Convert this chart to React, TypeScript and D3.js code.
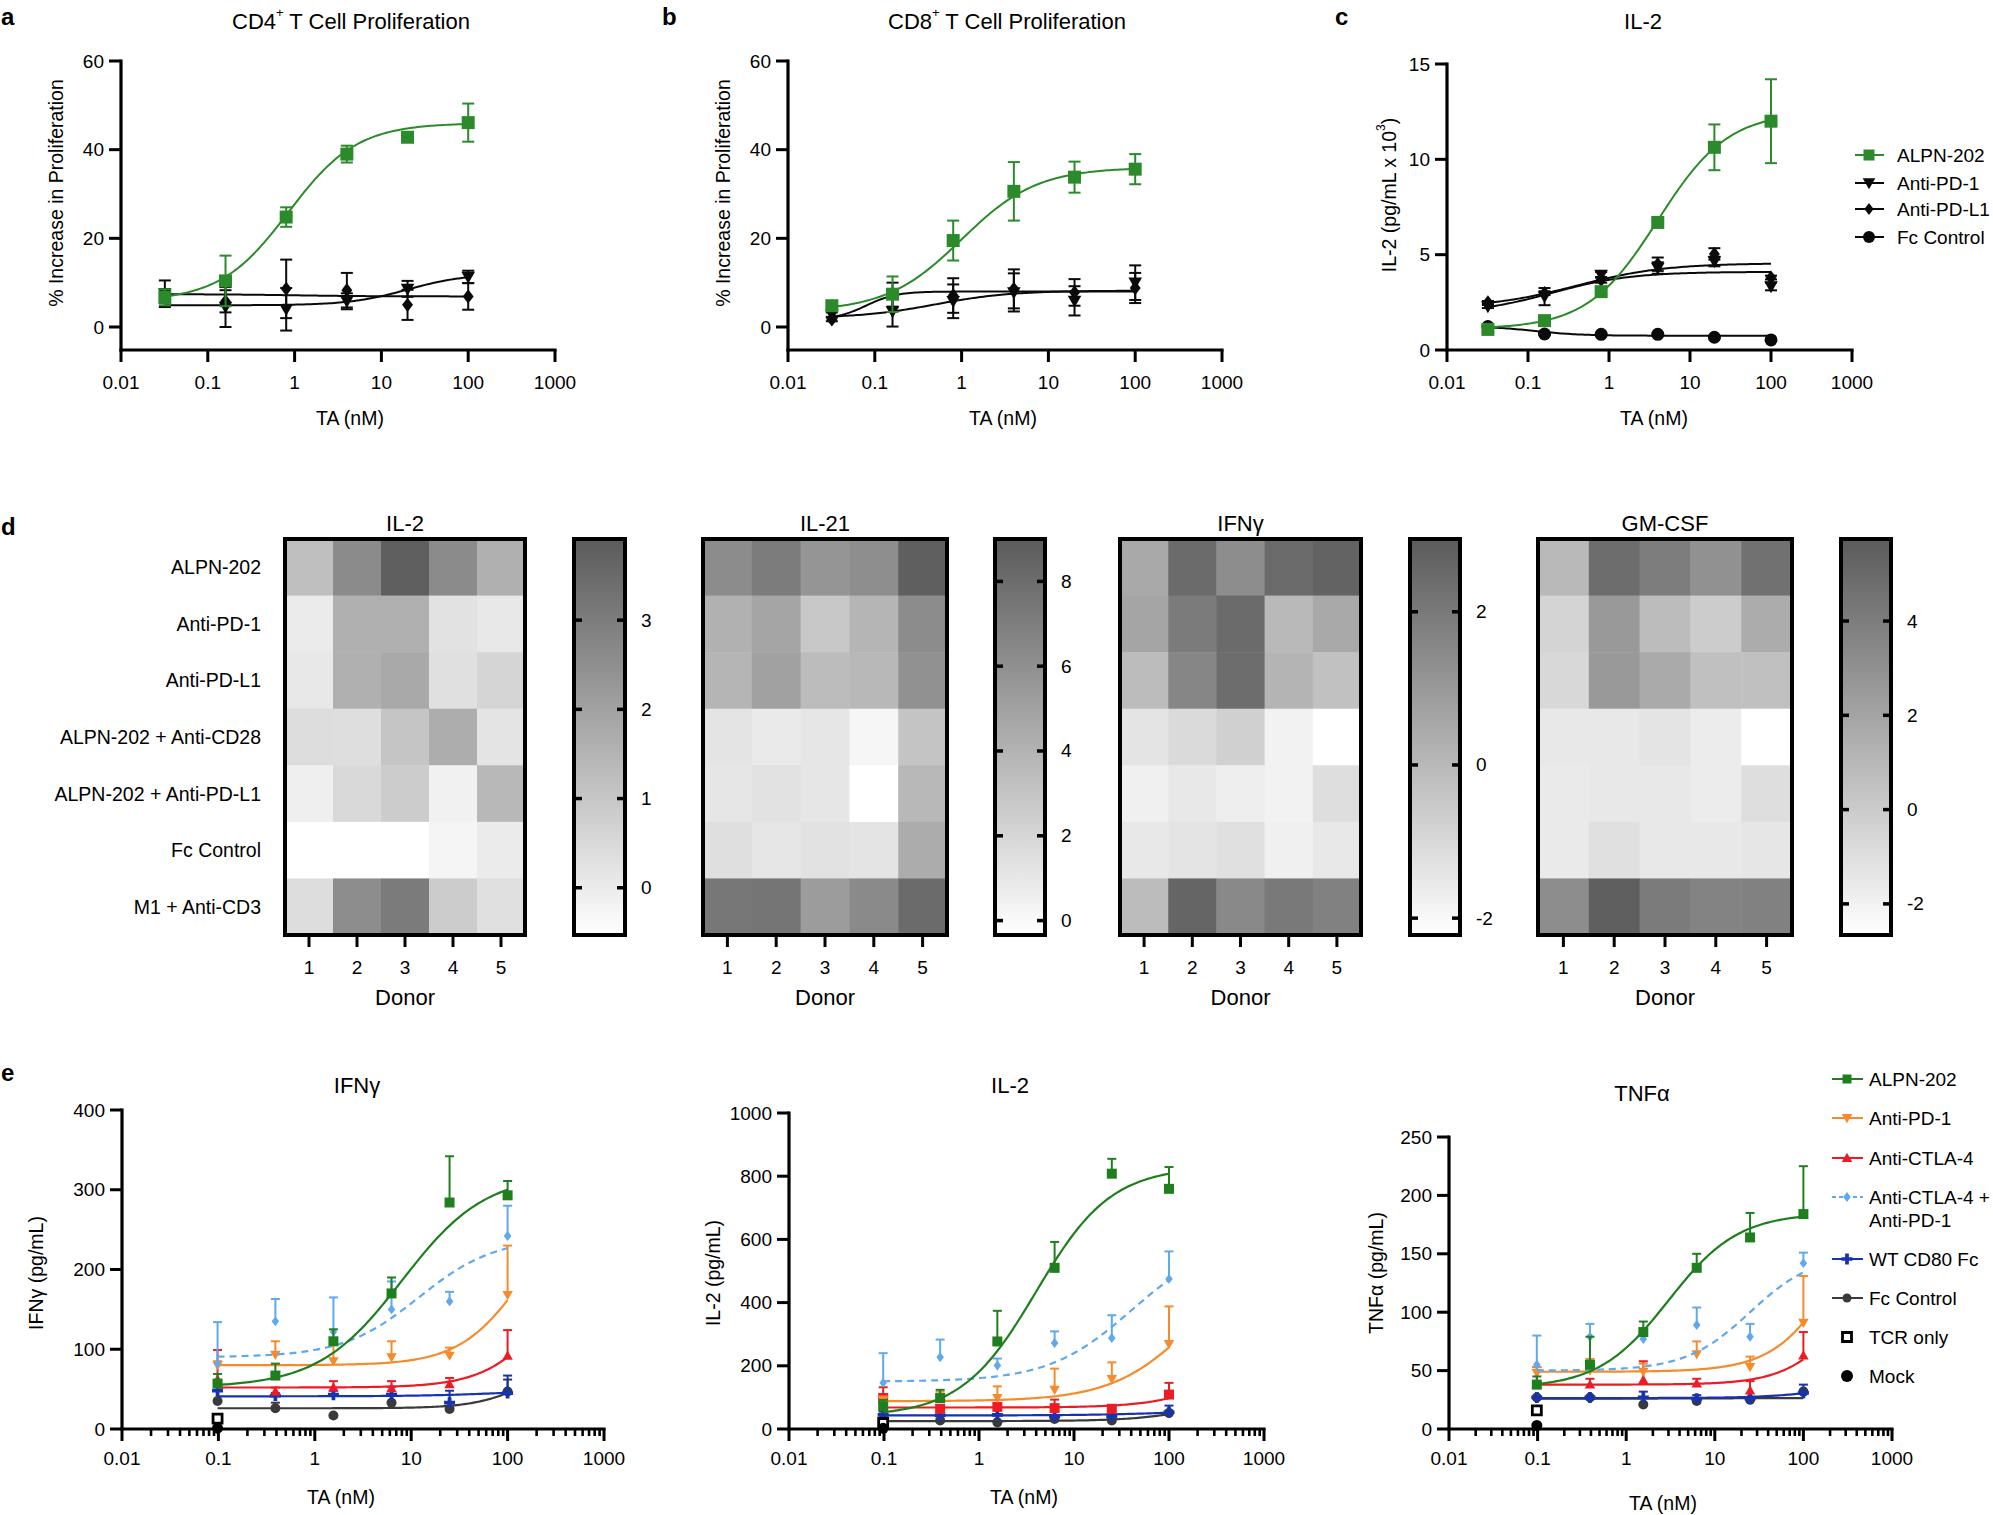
import React from "react";
import * as d3 from "d3";

const FONT = "'Liberation Sans', Arial, Helvetica, sans-serif";

// ---------------- Panels a–c : doses (nM) ----------------
const dosesABC = [0.032, 0.16, 0.8, 4, 20, 100];

// a: CD4+ proliferation (%)
const cd4Alpn = [6.7, 10.4, 24.8, 39, 42.8, 46.1];
const cd4AlpnErr = [1.8, 5.7, 2.2, 1.9, 0.6, 4.3];
const cd4AlpnFit = [5.8, 46, 0.85, 1.1]; // bottom, top, EC50, hill
const cd4Pd1 = [7.5, 4.5, 4, 5.8, 8.6, 11.3];
const cd4Pd1Err = [3, 4.5, 4.8, 1.8, 1.8, 1.4];
const cd4Pd1Fit = [4.9, 12, 20, 1.3];
const cd4Pdl1 = [7, 5.8, 8.6, 8.3, 5, 6.9];
const cd4Pdl1Err = [1.5, 2.5, 6.6, 3.9, 3.4, 3];
const cd4Pdl1Fit = [7.4, 6.9, 1, 1];

// b: CD8+ proliferation (%)
const cd8Alpn = [4.8, 7.4, 19.5, 30.6, 33.8, 35.6];
const cd8AlpnErr = [0.8, 4, 4.5, 6.6, 3.5, 3.4];
const cd8AlpnFit = [3.5, 36, 1.0, 1.0];
const cd8Pd1 = [2.8, 3.5, 5.8, 7.8, 5.9, 10];
const cd8Pd1Err = [0.5, 3.4, 3.8, 4.3, 3.3, 3.9];
const cd8Pd1Fit = [2.0, 8.2, 0.5, 1.0];
const cd8Pdl1 = [1.7, 7.3, 7.1, 8.6, 7.8, 8.8];
const cd8Pdl1Err = [0.4, 2.7, 3.9, 4.4, 3, 3.4];
const cd8Pdl1Fit = [1.7, 8, 0.08, 2.5];

// c: IL-2 (pg/mL x 10^3)
const il2Alpn = [1.08, 1.54, 3.06, 6.69, 10.63, 12.0];
const il2AlpnErr = [0.08, 0.1, 0.15, 0.2, 1.2, 2.2];
const il2AlpnFit = [1.1, 12.5, 4, 1.0];
const il2Pd1 = [2.28, 2.8, 3.94, 4.3, 4.64, 3.33];
const il2Pd1Err = [0.08, 0.45, 0.15, 0.3, 0.25, 0.2];
const il2Pd1Fit = [1.9, 4.1, 0.2, 0.9];
const il2Pdl1 = [2.49, 2.98, 3.68, 4.5, 5.04, 3.8];
const il2Pdl1Err = [0.08, 0.1, 0.15, 0.35, 0.3, 0.1];
const il2Pdl1Fit = [2.2, 4.55, 0.4, 0.8];
const il2Fc = [1.23, 0.84, 0.82, 0.82, 0.67, 0.53];
const il2FcErr = [0.05, 0.05, 0.05, 0.05, 0.05, 0.05];
const il2FcFit = [1.25, 0.75, 0.12, 1.5];

const legendCLabels = ["ALPN-202", "Anti-PD-1", "Anti-PD-L1", "Fc Control"];

// ---------------- Panel d : heatmaps ----------------
const heatRows = [
  "ALPN-202",
  "Anti-PD-1",
  "Anti-PD-L1",
  "ALPN-202 + Anti-CD28",
  "ALPN-202 + Anti-PD-L1",
  "Fc Control",
  "M1 + Anti-CD3",
];
const donors = [1, 2, 3, 4, 5];

const il2Heat = [
  [1.2, 2.6, 3.8, 2.6, 1.6],
  [0.0, 1.6, 1.6, 0.25, 0.1],
  [0.1, 1.6, 1.8, 0.3, 0.6],
  [0.4, 0.35, 1.05, 1.7, 0.2],
  [-0.1, 0.5, 0.85, -0.15, 1.4],
  [-0.53, -0.53, -0.53, -0.25, 0.0],
  [0.4, 2.55, 3.05, 0.85, 0.3],
];
const il2HeatRange = [-0.53, 3.91];
const il2HeatTicks = [0, 1, 2, 3];

const il21Heat = [
  [6.2, 7.1, 5.7, 6.1, 8.8],
  [4.1, 4.8, 2.8, 3.9, 6.2],
  [3.9, 5.0, 3.5, 3.7, 5.9],
  [1.2, 0.85, 1.1, 0.17, 3.0],
  [1.1, 1.3, 1.1, -0.34, 3.7],
  [1.5, 1.1, 1.3, 1.2, 4.4],
  [7.4, 7.5, 5.3, 6.3, 8.1],
];
const il21HeatRange = [-0.34, 9.0];
const il21HeatTicks = [0, 2, 4, 6, 8];

const ifngHeat = [
  [0.5, 2.45, 1.38, 2.45, 2.7],
  [0.63, 1.95, 2.45, 0.0, 0.5],
  [-0.12, 1.6, 2.39, 0.13, -0.25],
  [-1.37, -1.06, -0.75, -1.81, -2.22],
  [-1.75, -1.5, -1.69, -1.81, -1.18],
  [-1.5, -1.37, -1.25, -1.75, -1.5],
  [-0.12, 2.63, 1.51, 2.01, 1.76],
];
const ifngHeatRange = [-2.22, 2.95];
const ifngHeatTicks = [-2, 0, 2];

const gmcsfHeat = [
  [0.95, 4.82, 4.01, 2.99, 4.62],
  [-0.47, 2.58, 0.75, -0.06, 1.57],
  [-0.68, 2.58, 1.67, 0.55, 0.55],
  [-1.49, -1.49, -1.28, -1.69, -2.66],
  [-1.59, -1.49, -1.49, -1.69, -0.98],
  [-1.59, -1.08, -1.49, -1.49, -1.38],
  [3.19, 5.54, 4.11, 3.71, 3.81],
];
const gmcsfHeatRange = [-2.66, 5.74];
const gmcsfHeatTicks = [-2, 0, 2, 4];

// ---------------- Panel e : doses (nM) ----------------
const dosesE = [0.098, 0.39, 1.56, 6.25, 25, 100];
const controlDose = [0.098];

// IFNγ (pg/mL)
const eIfnAlpn = [57, 67, 110, 170, 284, 293];
const eIfnAlpnErr = [12, 15, 15, 20, 58, 18];
const eIfnAlpnFit = [52, 320, 8, 1.0];
const eIfnPd1 = [80, 93, 85, 90, 92, 168];
const eIfnPd1Err = [5, 17, 25, 20, 10, 62];
const eIfnPd1Fit = [80, 300, 150, 1.3];
const eIfnCtla4 = [62, 47, 52, 51, 56, 92];
const eIfnCtla4Err = [37, 5, 8, 9, 8, 32];
const eIfnCtla4Fit = [52, 250, 300, 1.3];
const eIfnCombo = [82, 135, 122, 150, 160, 242];
const eIfnComboErr = [52, 28, 43, 35, 12, 38];
const eIfnComboFit = [90, 240, 12, 1.1];
const eIfnCd80 = [48, 42, 43, 43, 33, 45];
const eIfnCd80Err = [5, 3, 5, 10, 15, 22];
const eIfnCd80Fit = [41, 50, 100, 1];
const eIfnFc = [35, 26, 17, 33, 25, 47];
const eIfnFcErr = [0, 7, 0, 0, 0, 15];
const eIfnFcFit = [26, 100, 200, 1.5];
const eIfnTcr = [13];
const eIfnMock = [1];

// IL-2 (pg/mL)
const eIl2Alpn = [72, 98, 277, 510, 808, 760];
const eIl2AlpnErr = [20, 26, 97, 82, 47, 69];
const eIl2AlpnFit = [40, 830, 4, 1.1];
const eIl2Pd1 = [90, 98, 98, 124, 158, 269];
const eIl2Pd1Err = [13, 20, 37, 67, 53, 119];
const eIl2Pd1Fit = [88, 600, 200, 1.0];
const eIl2Ctla4 = [98, 64, 70, 66, 64, 109];
const eIl2Ctla4Err = [34, 0, 0, 27, 0, 37];
const eIl2Ctla4Fit = [68, 300, 500, 1.2];
const eIl2Combo = [146, 227, 201, 272, 288, 475];
const eIl2ComboErr = [94, 56, 22, 37, 72, 87];
const eIl2ComboFit = [150, 600, 40, 1.0];
const eIl2Cd80 = [45, 43, 45, 40, 40, 53];
const eIl2Cd80Err = [10, 0, 0, 0, 0, 21];
const eIl2Cd80Fit = [43, 60, 100, 1];
const eIl2Fc = [30, 27, 21, 32, 27, 51];
const eIl2FcErr = [0, 0, 0, 0, 0, 0];
const eIl2FcFit = [25, 130, 300, 1.2];
const eIl2Tcr = [19];
const eIl2Mock = [2];

// TNFα (pg/mL)
const eTnfAlpn = [38, 55, 83, 138, 164, 184];
const eTnfAlpnErr = [7, 24, 9, 12, 21, 41];
const eTnfAlpnFit = [35, 185, 3, 1.1];
const eTnfPd1 = [48, 50, 49, 64, 53, 91];
const eTnfPd1Err = [5, 10, 7, 11, 9, 40];
const eTnfPd1Fit = [49, 250, 300, 1.2];
const eTnfCtla4 = [38, 38, 42, 39, 33, 63];
const eTnfCtla4Err = [15, 5, 16, 4, 8, 20];
const eTnfCtla4Fit = [38, 150, 300, 1.3];
const eTnfCombo = [55, 79, 77, 89, 79, 142];
const eTnfComboErr = [25, 11, 0, 15, 11, 9];
const eTnfComboFit = [50, 150, 25, 1.2];
const eTnfCd80 = [27, 27, 27, 26, 26, 31];
const eTnfCd80Err = [0, 0, 5, 3, 0, 7];
const eTnfCd80Fit = [26.5, 40, 200, 1.2];
const eTnfFc = [27, 27, 21, 24, 25, 32];
const eTnfFcErr = [0, 0, 0, 0, 0, 0];
const eTnfFcFit = [26, 26.5, 10, 1];
const eTnfTcr = [16];
const eTnfMock = [3];

const legendELabels = [
  ["ALPN-202"],
  ["Anti-PD-1"],
  ["Anti-CTLA-4"],
  ["Anti-CTLA-4 +", "Anti-PD-1"],
  ["WT CD80 Fc"],
  ["Fc Control"],
  ["TCR only"],
  ["Mock"],
];

// ---------------- styles ----------------
const GREEN = "#2b8b2b";
const GREEN_E = "#1f7f1f";
const ORANGE = "#f68b2c";
const RED = "#ec1c24";
const LBLUE = "#5fa9ec";
const DBLUE = "#1733b0";
const GRAY = "#3a3a3a";
const BLACK = "#0a0a0a";

type Series = {
  x: number[];
  y: number[];
  err?: number[];
  fit?: number[];
  color: string;
  marker: string;
  size: number;
  dash?: boolean;
};

function markerPath(type: string, s: number): string {
  const h = s / 2;
  switch (type) {
    case "square":
    case "openSquare":
      return `M${-h},${-h}H${h}V${h}H${-h}Z`;
    case "triDown":
      return `M${-h * 1.05},${-s * 0.4}H${h * 1.05}L0,${s * 0.52}Z`;
    case "triUp":
      return `M${-h * 1.05},${s * 0.4}H${h * 1.05}L0,${-s * 0.52}Z`;
    case "diamond":
      return `M0,${-h * 1.1}L${s * 0.42},0L0,${h * 1.1}L${-s * 0.42},0Z`;
    case "cross": {
      const t = s * 0.17;
      return `M${-t},${-h}H${t}V${-t}H${h}V${t}H${t}V${h}H${-t}V${t}H${-h}V${-t}H${-t}Z`;
    }
    default:
      return d3.symbol(d3.symbolCircle, Math.PI * h * h)() as string;
  }
}

function Marker({ type, size, color, cx, cy }: any) {
  if (type === "openSquare") {
    return (
      <path
        transform={`translate(${cx},${cy})`}
        d={markerPath(type, size)}
        fill="#fff"
        stroke="#000"
        strokeWidth={2.8}
      />
    );
  }
  return <path transform={`translate(${cx},${cy})`} d={markerPath(type, size)} fill={color} />;
}

function fitPoints(f: number[], x0: number, x1: number): [number, number][] {
  const n = 120;
  return d3.range(0, n + 1).map((i) => {
    const lx = Math.log10(x0) + ((Math.log10(x1) - Math.log10(x0)) * i) / n;
    const xv = Math.pow(10, lx);
    return [xv, f[0] + (f[1] - f[0]) / (1 + Math.pow(f[2] / xv, f[3]))];
  });
}

const majors = [0.01, 0.1, 1, 10, 100, 1000];
const majorLabels = ["0.01", "0.1", "1", "10", "100", "1000"];

function DoseChart(p: any) {
  const {
    left,
    right,
    yTop,
    yBottom,
    axisY,
    yDomain,
    yTicks,
    minor,
    twoSided,
    capW,
    series,
    lineW,
    errW,
  } = p;
  const x = d3.scaleLog().domain([0.01, 1000]).range([left, right]);
  const y = d3.scaleLinear().domain(yDomain).range([yBottom, yTop]);
  const minors = minor
    ? majors.slice(0, -1).flatMap((m) => d3.range(2, 10).map((k) => m * k))
    : [];
  const line = d3
    .line<[number, number]>()
    .x((d) => x(d[0]))
    .y((d) => y(d[1]));
  return (
    <g>
      {series.map((s: Series, si: number) => (
        <g key={si}>
          {s.fit && (
            <path
              d={line(fitPoints(s.fit, s.x[0], s.x[s.x.length - 1])) || ""}
              fill="none"
              stroke={s.color}
              strokeWidth={lineW}
              strokeDasharray={s.dash ? "7,5" : undefined}
            />
          )}
          {s.err &&
            s.x.map((xv, i) => {
              const e = s.err![i];
              if (!e) return null;
              const cx = x(xv);
              const yHi = y(s.y[i] + e);
              const yLo = twoSided ? y(s.y[i] - e) : y(s.y[i]);
              return (
                <g key={i} stroke={s.color} strokeWidth={errW}>
                  <line x1={cx} x2={cx} y1={yHi} y2={yLo} />
                  <line x1={cx - capW / 2} x2={cx + capW / 2} y1={yHi} y2={yHi} />
                  {twoSided && (
                    <line x1={cx - capW / 2} x2={cx + capW / 2} y1={yLo} y2={yLo} />
                  )}
                </g>
              );
            })}
          {s.x.map((xv, i) => (
            <Marker
              key={"m" + i}
              type={s.marker}
              size={s.size}
              color={s.color}
              cx={x(xv)}
              cy={y(s.y[i])}
            />
          ))}
        </g>
      ))}
      {/* axes */}
      <line
        x1={left}
        x2={left}
        y1={y(yDomain[1])}
        y2={axisY}
        stroke="#000"
        strokeWidth={3.2}
        strokeLinecap="square"
      />
      <line
        x1={left}
        x2={right}
        y1={axisY}
        y2={axisY}
        stroke="#000"
        strokeWidth={3.2}
        strokeLinecap="square"
      />
      {yTicks.map((t: number) => (
        <g key={"y" + t}>
          <line x1={left - 12} x2={left} y1={y(t)} y2={y(t)} stroke="#000" strokeWidth={3} />
          <text
            x={left - 17}
            y={y(t)}
            textAnchor="end"
            dominantBaseline="central"
            fontSize={19}
          >
            {t}
          </text>
        </g>
      ))}
      {minors.map((t: number, i: number) => (
        <line
          key={"mn" + i}
          x1={x(t)}
          x2={x(t)}
          y1={axisY}
          y2={axisY + 7}
          stroke="#000"
          strokeWidth={2.6}
        />
      ))}
      {majors.map((t, i) => (
        <g key={"x" + i}>
          <line x1={x(t)} x2={x(t)} y1={axisY} y2={axisY + 12} stroke="#000" strokeWidth={3} />
          <text
            x={x(t)}
            y={p.tickLabelY}
            textAnchor="middle"
            dominantBaseline="central"
            fontSize={19}
          >
            {majorLabels[i]}
          </text>
        </g>
      ))}
      <text
        x={p.titleX}
        y={p.titleY}
        textAnchor="middle"
        dominantBaseline="central"
        fontSize={22}
      >
        {p.title}
      </text>
      <text
        x={p.xLabelX}
        y={p.xLabelY}
        textAnchor="middle"
        dominantBaseline="central"
        fontSize={19.5}
      >
        TA (nM)
      </text>
      <text
        transform={`translate(${p.yLabelX},${p.yLabelY}) rotate(-90)`}
        textAnchor="middle"
        dominantBaseline="central"
        fontSize={19.5}
      >
        {p.yLabel}
      </text>
    </g>
  );
}

function Heatmap(p: any) {
  const { x0, x1, cb0, cb1, data, range, ticks, title, gid, showRows } = p;
  const top = 539;
  const bottom = 935;
  const xs = d3.scaleBand<number>().domain(donors).range([x0, x1]);
  const ys = d3.scaleBand<string>().domain(heatRows).range([top, bottom]);
  const dark = "#5b5b5b";
  const color = d3
    .scaleLinear<string>()
    .domain(range)
    .range(["#ffffff", dark])
    .interpolate(d3.interpolateRgb)
    .clamp(true);
  const cbY = d3.scaleLinear().domain(range).range([bottom, top]);
  return (
    <g>
      <defs>
        <linearGradient id={gid} x1="0" y1="1" x2="0" y2="0">
          <stop offset="0" stopColor="#ffffff" />
          <stop offset="1" stopColor={dark} />
        </linearGradient>
      </defs>
      {data.map((row: number[], ri: number) =>
        row.map((v: number, ci: number) => (
          <rect
            key={ri + "-" + ci}
            x={xs(donors[ci])}
            y={ys(heatRows[ri])}
            width={xs.bandwidth() + 0.5}
            height={ys.bandwidth() + 0.5}
            fill={color(v)}
          />
        ))
      )}
      <rect
        x={x0}
        y={top}
        width={x1 - x0}
        height={bottom - top}
        fill="none"
        stroke="#000"
        strokeWidth={4}
      />
      {donors.map((d) => (
        <g key={"d" + d}>
          <line
            x1={xs(d)! + xs.bandwidth() / 2}
            x2={xs(d)! + xs.bandwidth() / 2}
            y1={bottom + 2}
            y2={bottom + 12}
            stroke="#000"
            strokeWidth={3}
          />
          <text
            x={xs(d)! + xs.bandwidth() / 2}
            y={967}
            textAnchor="middle"
            dominantBaseline="central"
            fontSize={19}
          >
            {d}
          </text>
        </g>
      ))}
      <text
        x={(x0 + x1) / 2}
        y={997}
        textAnchor="middle"
        dominantBaseline="central"
        fontSize={22}
      >
        Donor
      </text>
      <text
        x={(x0 + x1) / 2}
        y={523}
        textAnchor="middle"
        dominantBaseline="central"
        fontSize={22}
      >
        {title}
      </text>
      {showRows &&
        heatRows.map((r) => (
          <text
            key={r}
            x={261}
            y={ys(r)! + ys.bandwidth() / 2}
            textAnchor="end"
            dominantBaseline="central"
            fontSize={19.5}
          >
            {r}
          </text>
        ))}
      {/* colour bar */}
      <rect
        x={cb0}
        y={top}
        width={cb1 - cb0}
        height={bottom - top}
        fill={`url(#${gid})`}
        stroke="#000"
        strokeWidth={4}
      />
      {ticks.map((t: number) => (
        <g key={"t" + t}>
          <line x1={cb0 - 1} x2={cb0 + 8} y1={cbY(t)} y2={cbY(t)} stroke="#000" strokeWidth={3.5} />
          <line x1={cb1 - 8} x2={cb1 + 1} y1={cbY(t)} y2={cbY(t)} stroke="#000" strokeWidth={3.5} />
          <text
            x={cb1 + 16}
            y={cbY(t)}
            textAnchor="start"
            dominantBaseline="central"
            fontSize={19}
          >
            {t < 0 ? "-" + Math.abs(t) : t}
          </text>
        </g>
      ))}
    </g>
  );
}

function Letter({ x, y, t }: any) {
  return (
    <text x={x} y={y} fontSize={24} fontWeight="bold">
      {t}
    </text>
  );
}

function LegendC() {
  const rows = [155, 183, 209, 237];
  const items = [
    { color: GREEN, marker: "square", size: 11 },
    { color: BLACK, marker: "triDown", size: 12 },
    { color: BLACK, marker: "diamond", size: 11 },
    { color: BLACK, marker: "circle", size: 12 },
  ];
  return (
    <g>
      {items.map((it, i) => (
        <g key={i}>
          <line x1={1855} x2={1884} y1={rows[i]} y2={rows[i]} stroke={it.color} strokeWidth={2} />
          <Marker type={it.marker} size={it.size} color={it.color} cx={1869} cy={rows[i]} />
          <text x={1897} y={rows[i]} dominantBaseline="central" fontSize={19}>
            {legendCLabels[i]}
          </text>
        </g>
      ))}
    </g>
  );
}

function LegendE() {
  const rows = [1079, 1118, 1158, 1197, 1259, 1298, 1337, 1376];
  const items = [
    { color: GREEN_E, marker: "square", size: 9, line: true },
    { color: ORANGE, marker: "triDown", size: 10, line: true },
    { color: RED, marker: "triUp", size: 10, line: true },
    { color: LBLUE, marker: "diamond", size: 9, line: true, dash: true },
    { color: DBLUE, marker: "cross", size: 11, line: true },
    { color: GRAY, marker: "circle", size: 9, line: true },
    { color: "#000", marker: "openSquare", size: 9, line: false },
    { color: "#000", marker: "circle", size: 12, line: false },
  ];
  return (
    <g>
      {items.map((it, i) => (
        <g key={i}>
          {it.line && (
            <line
              x1={1832}
              x2={1863}
              y1={rows[i]}
              y2={rows[i]}
              stroke={it.color}
              strokeWidth={2}
              strokeDasharray={it.dash ? "4,3" : undefined}
            />
          )}
          <Marker type={it.marker} size={it.size} color={it.color} cx={1847} cy={rows[i]} />
          {legendELabels[i].map((l, li) => (
            <text key={li} x={1869} y={rows[i] + li * 23} dominantBaseline="central" fontSize={19}>
              {l}
            </text>
          ))}
        </g>
      ))}
    </g>
  );
}

function eSeries(d: any): Series[] {
  return [
    { x: dosesE, y: d.fc, err: d.fcErr, fit: d.fcFit, color: GRAY, marker: "circle", size: 10 },
    { x: dosesE, y: d.cd80, err: d.cd80Err, fit: d.cd80Fit, color: DBLUE, marker: "cross", size: 11 },
    { x: dosesE, y: d.ctla4, err: d.ctla4Err, fit: d.ctla4Fit, color: RED, marker: d.ctlaMarker, size: 10 },
    { x: dosesE, y: d.pd1, err: d.pd1Err, fit: d.pd1Fit, color: ORANGE, marker: "triDown", size: 10 },
    { x: dosesE, y: d.combo, err: d.comboErr, fit: d.comboFit, color: LBLUE, marker: "diamond", size: 9, dash: true },
    { x: dosesE, y: d.alpn, err: d.alpnErr, fit: d.alpnFit, color: GREEN_E, marker: "square", size: 10 },
    { x: controlDose, y: d.tcr, color: "#000", marker: "openSquare", size: 9 },
    { x: controlDose, y: d.mock, color: "#000", marker: "circle", size: 11 },
  ];
}

export default function App() {
  const W = 1993;
  const H = 1515;
  const common = { yTop: 61, yBottom: 327, axisY: 350, twoSided: true, capW: 12, lineW: 2, errW: 2, tickLabelY: 382 };
  const seriesA: Series[] = [
    { x: dosesABC, y: cd4Pdl1, err: cd4Pdl1Err, fit: cd4Pdl1Fit, color: BLACK, marker: "diamond", size: 13 },
    { x: dosesABC, y: cd4Pd1, err: cd4Pd1Err, fit: cd4Pd1Fit, color: BLACK, marker: "triDown", size: 13 },
    { x: dosesABC, y: cd4Alpn, err: cd4AlpnErr, fit: cd4AlpnFit, color: GREEN, marker: "square", size: 13 },
  ];
  const seriesB: Series[] = [
    { x: dosesABC, y: cd8Pdl1, err: cd8Pdl1Err, fit: cd8Pdl1Fit, color: BLACK, marker: "diamond", size: 13 },
    { x: dosesABC, y: cd8Pd1, err: cd8Pd1Err, fit: cd8Pd1Fit, color: BLACK, marker: "triDown", size: 13 },
    { x: dosesABC, y: cd8Alpn, err: cd8AlpnErr, fit: cd8AlpnFit, color: GREEN, marker: "square", size: 13 },
  ];
  const seriesC: Series[] = [
    { x: dosesABC, y: il2Fc, err: il2FcErr, fit: il2FcFit, color: BLACK, marker: "circle", size: 13 },
    { x: dosesABC, y: il2Pdl1, err: il2Pdl1Err, fit: il2Pdl1Fit, color: BLACK, marker: "diamond", size: 13 },
    { x: dosesABC, y: il2Pd1, err: il2Pd1Err, fit: il2Pd1Fit, color: BLACK, marker: "triDown", size: 13 },
    { x: dosesABC, y: il2Alpn, err: il2AlpnErr, fit: il2AlpnFit, color: GREEN, marker: "square", size: 13 },
  ];
  const eCommon = { axisY: 1429, yBottom: 1429, twoSided: false, capW: 9, lineW: 2.2, errW: 2, minor: true, tickLabelY: 1458 };
  const sIfn = eSeries({
    fc: eIfnFc, fcErr: eIfnFcErr, fcFit: eIfnFcFit,
    cd80: eIfnCd80, cd80Err: eIfnCd80Err, cd80Fit: eIfnCd80Fit,
    ctla4: eIfnCtla4, ctla4Err: eIfnCtla4Err, ctla4Fit: eIfnCtla4Fit, ctlaMarker: "triUp",
    pd1: eIfnPd1, pd1Err: eIfnPd1Err, pd1Fit: eIfnPd1Fit,
    combo: eIfnCombo, comboErr: eIfnComboErr, comboFit: eIfnComboFit,
    alpn: eIfnAlpn, alpnErr: eIfnAlpnErr, alpnFit: eIfnAlpnFit,
    tcr: eIfnTcr, mock: eIfnMock,
  });
  const sIl2 = eSeries({
    fc: eIl2Fc, fcErr: eIl2FcErr, fcFit: eIl2FcFit,
    cd80: eIl2Cd80, cd80Err: eIl2Cd80Err, cd80Fit: eIl2Cd80Fit,
    ctla4: eIl2Ctla4, ctla4Err: eIl2Ctla4Err, ctla4Fit: eIl2Ctla4Fit, ctlaMarker: "square",
    pd1: eIl2Pd1, pd1Err: eIl2Pd1Err, pd1Fit: eIl2Pd1Fit,
    combo: eIl2Combo, comboErr: eIl2ComboErr, comboFit: eIl2ComboFit,
    alpn: eIl2Alpn, alpnErr: eIl2AlpnErr, alpnFit: eIl2AlpnFit,
    tcr: eIl2Tcr, mock: eIl2Mock,
  });
  const sTnf = eSeries({
    fc: eTnfFc, fcErr: eTnfFcErr, fcFit: eTnfFcFit,
    cd80: eTnfCd80, cd80Err: eTnfCd80Err, cd80Fit: eTnfCd80Fit,
    ctla4: eTnfCtla4, ctla4Err: eTnfCtla4Err, ctla4Fit: eTnfCtla4Fit, ctlaMarker: "triUp",
    pd1: eTnfPd1, pd1Err: eTnfPd1Err, pd1Fit: eTnfPd1Fit,
    combo: eTnfCombo, comboErr: eTnfComboErr, comboFit: eTnfComboFit,
    alpn: eTnfAlpn, alpnErr: eTnfAlpnErr, alpnFit: eTnfAlpnFit,
    tcr: eTnfTcr, mock: eTnfMock,
  });

  return (
    <svg
      width={W}
      height={H}
      viewBox={`0 0 ${W} ${H}`}
      style={{ position: "absolute", left: 0, top: 0, display: "block" }}
      fontFamily={FONT}
    >
      <rect width={W} height={H} fill="#ffffff" />

      <Letter x={1} y={25} t="a" />
      <Letter x={662} y={25} t="b" />
      <Letter x={1335} y={25} t="c" />
      <Letter x={1} y={535} t="d" />
      <Letter x={1} y={1081} t="e" />

      {/* a */}
      <DoseChart
        {...common}
        left={121}
        right={555}
        yDomain={[0, 60]}
        yTicks={[0, 20, 40, 60]}
        series={seriesA}
        title={
          <>
            CD4<tspan fontSize={13} dy={-9}>+</tspan>
            <tspan dy={9}> T Cell Proliferation</tspan>
          </>
        }
        titleX={351}
        titleY={21}
        xLabelX={350}
        xLabelY={418}
        yLabel="% Increase in Proliferation"
        yLabelX={56}
        yLabelY={193}
      />
      {/* b */}
      <DoseChart
        {...common}
        left={788}
        right={1222}
        yDomain={[0, 60]}
        yTicks={[0, 20, 40, 60]}
        series={seriesB}
        title={
          <>
            CD8<tspan fontSize={13} dy={-9}>+</tspan>
            <tspan dy={9}> T Cell Proliferation</tspan>
          </>
        }
        titleX={1007}
        titleY={21}
        xLabelX={1003}
        xLabelY={418}
        yLabel="% Increase in Proliferation"
        yLabelX={723}
        yLabelY={193}
      />
      {/* c */}
      <DoseChart
        {...common}
        yTop={64}
        yBottom={350}
        left={1447}
        right={1852}
        yDomain={[0, 15]}
        yTicks={[0, 5, 10, 15]}
        series={seriesC}
        title="IL-2"
        titleX={1643}
        titleY={21}
        xLabelX={1654}
        xLabelY={418}
        yLabel={
          <>
            IL-2 (pg/mL x 10<tspan fontSize={12} dy={-8}>3</tspan>
            <tspan dy={8}>)</tspan>
          </>
        }
        yLabelX={1389}
        yLabelY={195}
      />
      <LegendC />

      {/* d */}
      <Heatmap x0={285} x1={525} cb0={574} cb1={625} data={il2Heat} range={il2HeatRange} ticks={il2HeatTicks} title="IL-2" gid="g1" showRows />
      <Heatmap x0={703} x1={947} cb0={995} cb1={1045} data={il21Heat} range={il21HeatRange} ticks={il21HeatTicks} title="IL-21" gid="g2" />
      <Heatmap x0={1120} x1={1361} cb0={1410} cb1={1460} data={ifngHeat} range={ifngHeatRange} ticks={ifngHeatTicks} title="IFNγ" gid="g3" />
      <Heatmap x0={1538} x1={1792} cb0={1841} cb1={1891} data={gmcsfHeat} range={gmcsfHeatRange} ticks={gmcsfHeatTicks} title="GM-CSF" gid="g4" />

      {/* e */}
      <DoseChart
        {...eCommon}
        left={122}
        right={604}
        yTop={1110}
        yDomain={[0, 400]}
        yTicks={[0, 100, 200, 300, 400]}
        series={sIfn}
        title="IFNγ"
        titleX={357}
        titleY={1085}
        xLabelX={341}
        xLabelY={1497}
        yLabel="IFNγ (pg/mL)"
        yLabelX={36}
        yLabelY={1273}
      />
      <DoseChart
        {...eCommon}
        left={789}
        right={1264}
        yTop={1113}
        yDomain={[0, 1000]}
        yTicks={[0, 200, 400, 600, 800, 1000]}
        series={sIl2}
        title="IL-2"
        titleX={1010}
        titleY={1085}
        xLabelX={1024}
        xLabelY={1497}
        yLabel="IL-2 (pg/mL)"
        yLabelX={713}
        yLabelY={1273}
      />
      <DoseChart
        {...eCommon}
        left={1449}
        right={1892}
        yTop={1137}
        yDomain={[0, 250]}
        yTicks={[0, 50, 100, 150, 200, 250]}
        series={sTnf}
        title="TNFα"
        titleX={1642}
        titleY={1093}
        xLabelX={1663}
        xLabelY={1503}
        yLabel="TNFα (pg/mL)"
        yLabelX={1376}
        yLabelY={1273}
      />
      <LegendE />
    </svg>
  );
}
